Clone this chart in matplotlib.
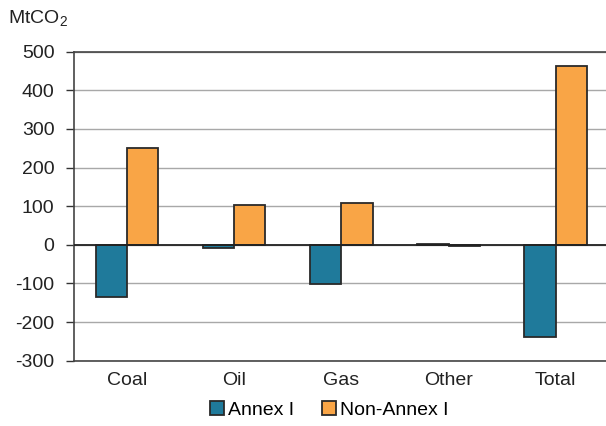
import matplotlib
matplotlib.use('Agg')
import matplotlib.pyplot as plt
import numpy as np

# Change in CO2 emissions by fuel
categories = ['Coal', 'Oil', 'Gas', 'Other', 'Total']
annex_i = [-134, -7, -102, 3, -238]
non_annex_i = [250, 103, 108, -2, 464]
y_ticks = [-300, -200, -100, 0, 100, 200, 300, 400, 500]

plt.rcParams['font.family'] = ['Liberation Sans', 'DejaVu Sans']
plt.rcParams['mathtext.fontset'] = 'custom'
plt.rcParams['mathtext.rm'] = 'Liberation Sans'
plt.rcParams['mathtext.it'] = 'Liberation Sans'

fig = plt.figure(figsize=(6.06, 4.26), dpi=100)
ax = fig.add_axes([0.122, 0.1533, 0.883, 0.7254])

x = np.arange(len(categories))
w = 0.29
ax.bar(x - w / 2, annex_i, w, color='#1f7a9b', edgecolor='#2a2a2a',
       linewidth=1.3, label='Annex I', zorder=3)
ax.bar(x + w / 2, non_annex_i, w, color='#f9a546', edgecolor='#2a2a2a',
       linewidth=1.3, label='Non-Annex I', zorder=3)

ax.set_xlim(-0.5, len(categories) - 0.5)
ax.set_ylim(-300, 500)
ax.set_yticks(y_ticks)
ax.set_yticklabels([str(t) for t in y_ticks], fontsize=14, color='#222222')
ax.set_xticks(x)
ax.set_xticklabels(categories, fontsize=14, color='#222222')
ax.tick_params(axis='x', length=0, pad=8)
ax.tick_params(axis='y', length=6, width=1, direction='out', pad=8,
               color='#333333')

ax.grid(axis='y', color='#a8a8a8', linewidth=1, zorder=0)
ax.axhline(0, color='#222222', linewidth=1.3, zorder=4)
ax.spines['right'].set_visible(False)
for side in ['top', 'bottom', 'left']:
    ax.spines[side].set_color('#444444')
    ax.spines[side].set_linewidth(1.2)

fig.text(0.013, 0.958, r'MtCO$_2$', fontsize=14, ha='left', va='center',
         color='#222222')

ax.legend(loc='center', bbox_to_anchor=(0.477, -0.16), ncol=2,
          frameon=False, fontsize=14, handlelength=0.75, handleheight=0.75,
          handletextpad=0.2, columnspacing=1.4)

plt.savefig('out.png', dpi=100)
